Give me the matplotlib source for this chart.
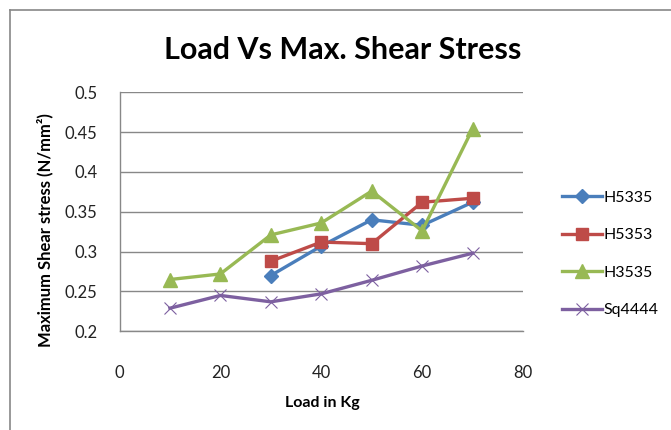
import numpy as np
import matplotlib
matplotlib.use('Agg')
import matplotlib.pyplot as plt
from matplotlib.lines import Line2D

plt.rcParams['font.family'] = ['Lato', 'DejaVu Sans']

# data
load = [10, 20, 30, 40, 50, 60, 70]
h5335 = [np.nan, np.nan, 0.270, 0.307, 0.340, 0.333, 0.362]
h5353 = [np.nan, np.nan, 0.288, 0.312, 0.310, 0.362, 0.367]
h3535 = [0.265, 0.272, 0.321, 0.336, 0.376, 0.326, 0.454]
sq4444 = [0.229, 0.245, 0.237, 0.247, 0.264, 0.282, 0.298]
series_names = ['H5335', 'H5353', 'H3535', 'Sq4444']
xticks = [0, 20, 40, 60, 80]
yticks = [0.2, 0.25, 0.3, 0.35, 0.4, 0.45, 0.5]

W, H = 671, 430
fig = plt.figure(figsize=(W/100, H/100), dpi=100)

# outer chart border (only left and top are visible)
fig.add_artist(Line2D([9.5/W, 9.5/W], [0, 1-9.5/H], color='#888888', lw=1.2))
fig.add_artist(Line2D([9.5/W, 1], [1-9.5/H, 1-9.5/H], color='#888888', lw=1.2))

ax = fig.add_axes([119.5/W, 1-331.3/H, (523-119.5)/W, (331.3-92.3)/H])

ax.plot(load, h5335, color='#4A7EBB', lw=2.4, marker='D', ms=7, label=series_names[0])
ax.plot(load, h5353, color='#BE4B48', lw=2.4, marker='s', ms=9, label=series_names[1])
ax.plot(load, h3535, color='#98B954', lw=2.4, marker='^', ms=10, label=series_names[2])
ax.plot(load, sq4444, color='#7D60A0', lw=2.4, marker='x', ms=9, mew=0.8, label=series_names[3])

ax.set_xlim(0, 80)
ax.set_ylim(0.2, 0.5)
ax.set_xticks(xticks)
ax.set_yticks(yticks)
ax.set_xticklabels([str(t) for t in xticks])
ax.set_yticklabels(['%g' % t for t in yticks])
ax.tick_params(length=0, labelsize=12, colors='#222222')
ax.tick_params(axis='x', pad=24)
ax.tick_params(axis='y', pad=16)

ax.grid(axis='y', color='#888888', lw=1)
ax.set_axisbelow(True)
for s in ['top', 'right']:
    ax.spines[s].set_visible(False)
for s in ['left', 'bottom']:
    ax.spines[s].set_color('#888888')
    ax.spines[s].set_linewidth(1)

fig.text(343/W, 1-50/H, 'Load Vs Max. Shear Stress', ha='center', va='center',
         fontsize=22, fontweight='bold')
fig.text(322/W, 1-403/H, 'Load in Kg', ha='center', va='center',
         fontsize=11.5, fontweight='bold')
fig.text(45/W, 1-230/H, 'Maximum Shear stress (N/mm²)', ha='center', va='center',
         rotation=90, fontsize=12, fontweight='bold')

ax.legend(loc='center left', bbox_to_anchor=(548/W, 1-254/H), bbox_transform=fig.transFigure,
          frameon=False, fontsize=11.5, handlelength=2.5, handletextpad=0.1, labelspacing=1.45)

fig.savefig('out.png', dpi=100)
